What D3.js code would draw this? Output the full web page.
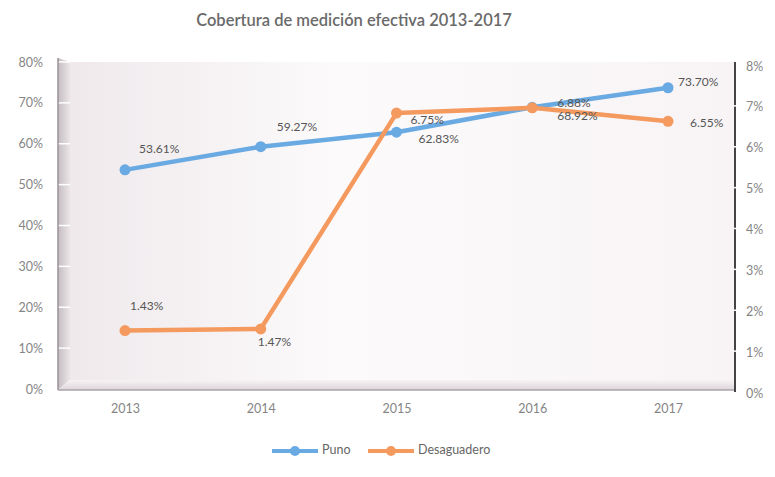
<!DOCTYPE html>
<html>
<head>
<meta charset="utf-8">
<script src="https://cdn.jsdelivr.net/npm/d3@7"></script>
<style>
  body { margin: 0; background: #fff; }
  text { font-family: Lato, "Open Sans", sans-serif; }
</style>
</head>
<body>
<div id="chart"></div>
<script>
// data
const years = ["2013", "2014", "2015", "2016", "2017"];
const puno = [0.5361, 0.5927, 0.6283, 0.6892, 0.7370];
const desaguadero = [0.0143, 0.0147, 0.0675, 0.0688, 0.0655];
const punoLabels = ["53.61%", "59.27%", "62.83%", "68.92%", "73.70%"];
const desLabels = ["1.43%", "1.47%", "6.75%", "6.88%", "6.55%"];
const leftTicks = [0, 0.1, 0.2, 0.3, 0.4, 0.5, 0.6, 0.7, 0.8];
const rightTicks = [0, 0.01, 0.02, 0.03, 0.04, 0.05, 0.06, 0.07, 0.08];

// label offsets (start x, centre y) relative to the point
const punoOff = [[14, -20], [16, -19], [22, 8], [25, 10], [10, -5]];
const desOff = [[5, -24], [-3, 14], [14, 8], [25, -4], [22, 3]];

const blue = "#6aaae2", orange = "#f59a5f";

const width = 775, height = 477;
const svg = d3.select("#chart").append("svg")
  .attr("width", width)
  .attr("height", height);

const defs = svg.append("defs");
const back = defs.append("linearGradient").attr("id", "back")
  .attr("x1", 0).attr("y1", 0).attr("x2", 1).attr("y2", 0);
back.append("stop").attr("offset", "0%").attr("stop-color", "#efe9ec");
back.append("stop").attr("offset", "40%").attr("stop-color", "#fcfafb");
back.append("stop").attr("offset", "100%").attr("stop-color", "#f8f4f6");
const wall = defs.append("linearGradient").attr("id", "wall")
  .attr("x1", 0).attr("y1", 0).attr("x2", 1).attr("y2", 0);
wall.append("stop").attr("offset", "0%").attr("stop-color", "#c4bcc1");
wall.append("stop").attr("offset", "100%").attr("stop-color", "#ebe5e8");
const floor = defs.append("linearGradient").attr("id", "floor")
  .attr("x1", 0).attr("y1", 1).attr("x2", 0).attr("y2", 0);
floor.append("stop").attr("offset", "0%").attr("stop-color", "#dcd5d9");
floor.append("stop").attr("offset", "100%").attr("stop-color", "#f7f3f5");

// scales
const x = d3.scalePoint().domain(years).range([125, 668]);
const yL = d3.scaleLinear().domain([0, 0.8]).range([389, 62]);
const yR = d3.scaleLinear().domain([0, 0.08]).range([389, 62]);

// 3d-ish plot frame
svg.append("rect")
  .attr("x", 70).attr("y", 62).attr("width", 664).attr("height", 318)
  .attr("fill", "url(#back)");
svg.append("path")
  .attr("d", "M58,58 L70,62 L70,380 L58,390 Z")
  .attr("fill", "url(#wall)");
svg.append("path")
  .attr("d", "M58,390 L70,380 L734,380 L736,390 Z")
  .attr("fill", "url(#floor)");
svg.append("g")
  .selectAll("line")
  .data(leftTicks.slice(1))
  .join("line")
    .attr("x1", 58).attr("x2", 70)
    .attr("y1", d => yL(d)).attr("y2", d => yL(d))
    .attr("stroke", "#fff").attr("stroke-width", 1.5);
svg.append("line")
  .attr("x1", 58).attr("x2", 58).attr("y1", 58).attr("y2", 390)
  .attr("stroke", "#9a9296").attr("stroke-width", 1.5);
svg.append("line")
  .attr("x1", 58).attr("x2", 736).attr("y1", 390).attr("y2", 390)
  .attr("stroke", "#aaa3a7").attr("stroke-width", 1.5);
svg.append("line")
  .attr("x1", 735).attr("x2", 735).attr("y1", 62).attr("y2", 392)
  .attr("stroke", "#444").attr("stroke-width", 2);
svg.append("g")
  .selectAll("line")
  .data(rightTicks.slice(1, -1))
  .join("line")
    .attr("x1", 733).attr("x2", 737)
    .attr("y1", d => yR(d) + 3).attr("y2", d => yR(d) + 3)
    .attr("stroke", "#fff").attr("stroke-width", 1.5);

// axes
const axisLeft = d3.axisLeft(yL).tickValues(leftTicks)
  .tickFormat(d3.format(".0%")).tickSize(0).tickPadding(0);
const gL = svg.append("g").attr("transform", "translate(43,0)").call(axisLeft);
const axisRight = d3.axisRight(yR).tickValues(rightTicks)
  .tickFormat(d3.format(".0%")).tickSize(0).tickPadding(0);
const gR = svg.append("g").attr("transform", "translate(746,4)").call(axisRight);
const axisBottom = d3.axisBottom(x).tickSize(0).tickPadding(0);
const gB = svg.append("g").attr("transform", "translate(0,404)").call(axisBottom);
[gL, gR, gB].forEach(g => {
  g.select(".domain").remove();
  g.selectAll("text")
    .style("font-family", "Lato, sans-serif")
    .style("font-size", "12.5px")
    .attr("fill", "#858585");
});

// lines
const lineL = d3.line().x((d, i) => x(years[i])).y(d => yL(d));
const lineR = d3.line().x((d, i) => x(years[i])).y(d => yR(d));

svg.append("path").datum(puno)
  .attr("d", lineL).attr("fill", "none")
  .attr("stroke", blue).attr("stroke-width", 4.5).attr("stroke-linejoin", "round");
svg.append("g").selectAll("circle")
  .data(puno).join("circle")
    .attr("cx", (d, i) => x(years[i])).attr("cy", d => yL(d))
    .attr("r", 5.5).attr("fill", blue);

svg.append("path").datum(desaguadero)
  .attr("d", lineR).attr("fill", "none")
  .attr("stroke", orange).attr("stroke-width", 4.5).attr("stroke-linejoin", "round");
svg.append("g").selectAll("circle")
  .data(desaguadero).join("circle")
    .attr("cx", (d, i) => x(years[i])).attr("cy", d => yR(d))
    .attr("r", 5.5).attr("fill", orange);

// data labels
function labels(values, texts, offs, scale) {
  svg.append("g").selectAll("text")
    .data(values).join("text")
      .attr("x", (d, i) => x(years[i]) + offs[i][0])
      .attr("y", (d, i) => scale(d) + offs[i][1])
      .attr("dominant-baseline", "middle")
      .style("font-size", "12px")
      .attr("fill", "#555")
      .text((d, i) => texts[i]);
}
labels(puno, punoLabels, punoOff, yL);
labels(desaguadero, desLabels, desOff, yR);

// title
svg.append("text")
  .attr("x", 354).attr("y", 26)
  .attr("text-anchor", "middle")
  .style("font-size", "16.5px")
  .style("font-weight", "600")
  .attr("fill", "#6a6a6a")
  .text("Cobertura  de medición efectiva 2013-2017");

// legend
const legend = [
  { name: "Puno", color: blue, x: 272 },
  { name: "Desaguadero", color: orange, x: 368 }
];
const lg = svg.append("g").selectAll("g")
  .data(legend).join("g")
    .attr("transform", d => `translate(${d.x},451)`);
lg.append("line")
  .attr("x1", 0).attr("x2", 46)
  .attr("stroke", d => d.color).attr("stroke-width", 4);
lg.append("circle")
  .attr("cx", 23).attr("r", 5).attr("fill", d => d.color);
lg.append("text")
  .attr("x", 50).attr("dominant-baseline", "middle")
  .style("font-size", "12.5px")
  .attr("fill", "#666")
  .text(d => d.name);
</script>
</body>
</html>
